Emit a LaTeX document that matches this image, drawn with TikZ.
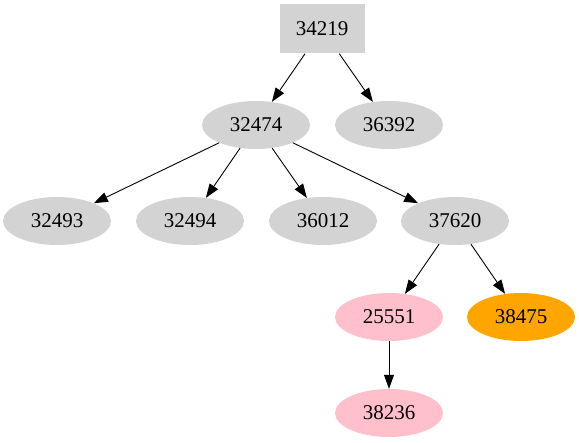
\documentclass[tikz,border=0pt]{standalone}
\usepackage{fontspec}
\setmainfont{Liberation Serif}
\usetikzlibrary{arrows.meta, shapes.geometric}
\definecolor{gvgray}{HTML}{D3D3D3}
\definecolor{gvpink}{HTML}{FFC0CB}
\definecolor{gvorange}{HTML}{FFA500}

\begin{document}
\begin{tikzpicture}[x=1pt, y=-1pt,
    every node/.style={font=\fontsize{21}{25}\selectfont, inner sep=0pt},
    leaf/.style={ellipse, fill=gvgray, minimum width=108pt, minimum height=48pt},
    rootbox/.style={rectangle, fill=gvgray, minimum width=85pt, minimum height=49pt},
    edge/.style={-{Triangle[length=14pt, width=10pt]}, line width=0.9pt}]
    \useasboundingbox (0,0) rectangle (579,443);
    \node [rootbox] (n34219) at (322, 29) {34219};
    \node [leaf] (n32474) at (256, 125) {32474};
    \node [leaf] (n36392) at (389, 125) {36392};
    \node [leaf] (n32493) at (57, 221) {32493};
    \node [leaf] (n32494) at (190, 221) {32494};
    \node [leaf] (n36012) at (323, 221) {36012};
    \node [leaf] (n37620) at (455, 221) {37620};
    \node [leaf, fill=gvpink] (n25551) at (389, 317) {25551};
    \node [leaf, fill=gvorange] (n38475) at (521, 317) {38475};
    \node [leaf, fill=gvpink] (n38236) at (389, 413) {38236};
    \draw [edge] (n34219) -- (n32474);
    \draw [edge] (n34219) -- (n36392);
    \draw [edge] (n32474) -- (n32493);
    \draw [edge] (n32474) -- (n32494);
    \draw [edge] (n32474) -- (n36012);
    \draw [edge] (n32474) -- (n37620);
    \draw [edge] (n37620) -- (n25551);
    \draw [edge] (n37620) -- (n38475);
    \draw [edge] (n25551) -- (n38236);
\end{tikzpicture}
\end{document}
